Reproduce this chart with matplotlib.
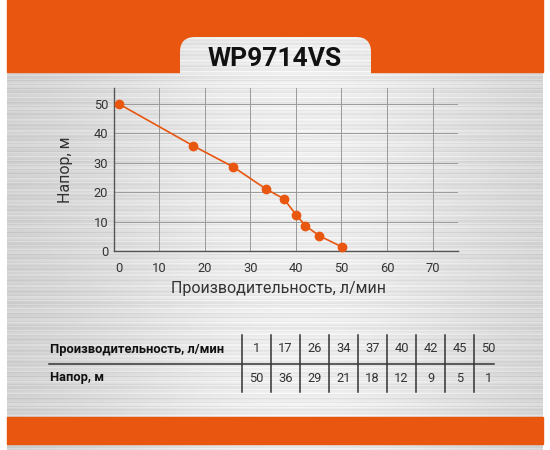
import numpy as np
import matplotlib.pyplot as plt
from matplotlib.patches import Rectangle, FancyBboxPatch
import matplotlib.transforms as mtransforms

plt.rcParams['font.family'] = ['Roboto', 'DejaVu Sans']

model = 'WP9714VS'
# points of the curve
flow_pts = [1.1, 17.5, 26.2, 33.5, 37.3, 40.1, 42.1, 45.1, 50.1]
head_pts = [50.0, 35.7, 28.6, 21.0, 17.8, 12.2, 8.6, 5.2, 1.4]
# values of the table under the chart
table_flow = [1, 17, 26, 34, 37, 40, 42, 45, 50]
table_head = [50, 36, 29, 21, 18, 12, 9, 5, 1]
x_ticks = [0, 10, 20, 30, 40, 50, 60, 70]
y_ticks = [0, 10, 20, 30, 40, 50]
x_label = 'Производительность, л/мин'
y_label = 'Напор, м'
row_labels = ['Производительность, л/мин', 'Напор, м']

orange = '#e8560f'
W, H = 550, 450

fig = plt.figure(figsize=(5.5, 4.5), dpi=100)
fig.patch.set_facecolor('white')

# background: brushed metal, pixel coordinates
bg = fig.add_axes([0, 0, 1, 1])
bg.set_xlim(0, W)
bg.set_ylim(H, 0)
bg.axis('off')

rows = np.arange(H)[:, None]
cols = np.arange(W - 14)[None, :]
streak = (0.024 * np.sin(rows * 1.7) + 0.018 * np.sin(rows * 0.53 + 1.0)
          + 0.014 * np.sin(rows * 3.1 + 2.0))
shade = 0.80 + 0.13 * np.exp(-((cols - 290) / 220.0) ** 2)
metal = np.clip(shade + streak, 0, 1)
bg.imshow(metal, cmap='gray', vmin=0, vmax=1, extent=(7, W - 7, H, 0),
          aspect='auto', interpolation='bilinear', zorder=0)

bg.add_patch(Rectangle((7, 0), W - 14, 72, color=orange, zorder=1))
bg.add_patch(Rectangle((7, 417), W - 14, 27, color=orange, zorder=1))
tab_img = bg.imshow(metal, cmap='gray', vmin=0, vmax=1, extent=(7, W - 7, H, 0),
                    aspect='auto', interpolation='bilinear', zorder=2)
tab_img.set_clip_path(FancyBboxPatch((180, 37), 191, 60,
                                     boxstyle='round,pad=0,rounding_size=15',
                                     transform=bg.transData))
bg.text(275, 59, model, fontsize=19, fontweight='bold', color='#111111',
        ha='center', va='center', zorder=3)

# table
col_w = 29
x0 = 242
for i in range(len(table_flow)):
    xc = x0 + i * col_w + col_w / 2
    bg.text(xc, 349, str(table_flow[i]), fontsize=9.3, color='#333333',
            ha='center', va='center', zorder=3)
    bg.text(xc, 378, str(table_head[i]), fontsize=9.3, color='#333333',
            ha='center', va='center', zorder=3)
    xl = x0 + i * col_w
    bg.plot([xl, xl], [335, 392], color='#333333', lw=1.1, zorder=3)
bg.plot([49, 494], [364, 364], color='#333333', lw=1.1, zorder=3)
bg.text(50, 349, row_labels[0], fontsize=9.3, fontweight='bold', color='#111111',
        ha='left', va='center', zorder=3)
bg.text(50, 378, row_labels[1], fontsize=9.3, fontweight='bold', color='#111111',
        ha='left', va='center', zorder=3)

# chart
ax = fig.add_axes([113.8 / W, 1 - 251 / H, (458 - 113.8) / W, (251 - 88) / H])
ax.patch.set_alpha(0)
ax.plot(flow_pts, head_pts, color=orange, lw=1.2, marker='o', markersize=6,
        zorder=3, clip_on=False)
ax.set_xlim(0, 75.6)
ax.set_ylim(0, 55.4)
ax.set_xticks(x_ticks)
ax.set_yticks(y_ticks)
ax.grid(True, color='#9a9a9a', lw=0.7)
ax.tick_params(length=0, labelsize=9.3, labelcolor='#333333')
ax.tick_params(axis='x', pad=8)
ax.tick_params(axis='y', pad=4)
for s in ['top', 'right']:
    ax.spines[s].set_visible(False)
for s in ['left', 'bottom']:
    ax.spines[s].set_color('#555555')
    ax.spines[s].set_linewidth(1.0)
ax.set_xlabel(x_label, fontsize=11.5, color='#333333', va='center')
ax.xaxis.set_label_coords(0.479, -0.227)
ax.set_ylabel(y_label, fontsize=11.5, color='#333333', va='center')
ax.yaxis.set_label_coords(-0.139, 0.5)

fig.canvas.draw()
lbl0 = ax.get_xticklabels()[0]
lbl0.set_transform(lbl0.get_transform() + mtransforms.ScaledTranslation(5 / 100, 0, fig.dpi_scale_trans))

fig.savefig('out.png', dpi=100)
